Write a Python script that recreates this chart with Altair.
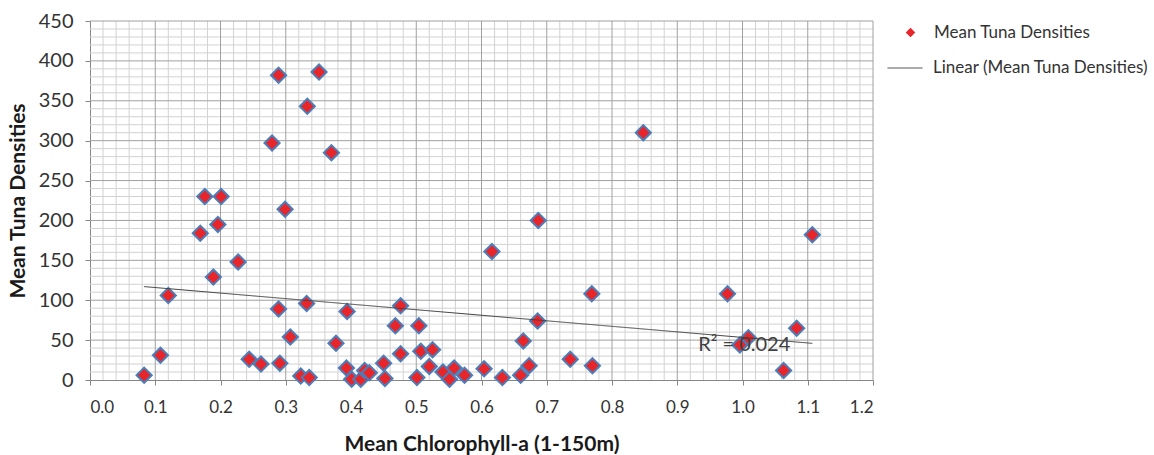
import altair as alt
import pandas as pd

# Mean chlorophyll-a (1-150 m) against mean tuna densities, one value per station
chl = [0.083, 0.108, 0.120, 0.169, 0.176, 0.189, 0.196, 0.201, 0.227, 0.244,
       0.262, 0.279, 0.289, 0.289, 0.291, 0.299, 0.307, 0.323, 0.332, 0.333,
       0.336, 0.351, 0.370, 0.377, 0.393, 0.394, 0.401, 0.415, 0.421, 0.428,
       0.450, 0.452, 0.468, 0.476, 0.476, 0.501, 0.504, 0.507, 0.520, 0.525,
       0.541, 0.551, 0.558, 0.574, 0.604, 0.616, 0.632, 0.660, 0.664, 0.673,
       0.686, 0.687, 0.736, 0.769, 0.770, 0.848, 0.977, 0.996, 1.009, 1.063,
       1.083, 1.107]
tuna = [6, 31, 106, 184, 230, 129, 195, 230, 148, 26,
        20, 297, 382, 89, 21, 214, 54, 5, 96, 343,
        3, 386, 285, 46, 15, 86, 1, 1, 12, 9,
        21, 2, 68, 93, 33, 3, 68, 36, 17, 38,
        10, 1, 15, 6, 14, 161, 3, 6, 49, 18,
        74, 200, 26, 108, 18, 310, 108, 44, 53, 12,
        65, 182]

series_points = "Mean Tuna Densities"
series_trend = "Linear (Mean Tuna Densities)"
r2_text = "R² = 0.024"
x_title = "Mean Chlorophyll-a (1-150m)"
y_title = "Mean Tuna Densities"

# Gridline positions: major every 0.1 / 50, minor every 0.02 / 10
x_major = [round(i * 0.1, 1) for i in range(13)]
x_minor = [round(i * 0.02, 2) for i in range(61) if i % 5]
y_major = list(range(0, 451, 50))
y_minor = [v for v in range(0, 451, 10) if v % 50]

FONT = "Lato"
RED = "#E8262A"
BLUE = "#4A7EBB"
TREND = "#404040"
AXIS_GRAY = "#868686"

df = pd.DataFrame({"chl": chl, "tuna": tuna, "series": series_points})

x_scale = alt.Scale(domain=[0, 1.2], nice=False, zero=False)
y_scale = alt.Scale(domain=[0, 450], nice=False, zero=False)

x_axis = alt.Axis(
    values=x_major, format=".1f", grid=False,
    labelFont=FONT, labelFontSize=17, labelColor="#333333", labelPadding=14,
    tickSize=5, tickColor=AXIS_GRAY, domainColor=AXIS_GRAY,
    titleFont=FONT, titleFontSize=21, titleFontWeight="bold",
    titleColor="#1a1a1a", titlePadding=18,
)
y_axis = alt.Axis(
    values=y_major, grid=False,
    labelFont=FONT, labelFontSize=20, labelColor="#333333", labelPadding=12,
    tickSize=5, tickColor=AXIS_GRAY, domainColor=AXIS_GRAY,
    titleFont=FONT, titleFontSize=21, titleFontWeight="bold",
    titleColor="#1a1a1a", titleX=-72, titleY=179.5, titleAngle=270,
    titleBaseline="middle", titleAlign="center",
)

X = alt.X("chl:Q", scale=x_scale, title=x_title, axis=x_axis)
Y = alt.Y("tuna:Q", scale=y_scale, title=y_title, axis=y_axis)

# Minor and major gridlines, drawn as rules on the shared scales
minor_v = alt.Chart(pd.DataFrame({"chl": x_minor})).mark_rule(
    color="#D2D2D2", strokeWidth=1
).encode(x=X)
minor_h = alt.Chart(pd.DataFrame({"tuna": y_minor})).mark_rule(
    color="#D2D2D2", strokeWidth=1
).encode(y=Y)
major_v = alt.Chart(pd.DataFrame({"chl": x_major[1:]})).mark_rule(
    color="#A0A0A0", strokeWidth=1
).encode(x=X)
major_h = alt.Chart(pd.DataFrame({"tuna": y_major[1:]})).mark_rule(
    color="#A0A0A0", strokeWidth=1
).encode(y=Y)

points = alt.Chart(df).mark_point(
    filled=True, size=230, fill=RED, stroke=BLUE, strokeWidth=2, opacity=1
).encode(
    x=X,
    y=Y,
    shape=alt.Shape(
        "series:N",
        scale=alt.Scale(domain=[series_points], range=["diamond"]),
        legend=alt.Legend(
            title=None, orient="none", legendX=812, legendY=3, padding=0,
            symbolSize=90, symbolFillColor=RED, symbolStrokeWidth=0,
            labelFont=FONT, labelFontSize=17, labelColor="#333333",
            labelOffset=15, labelLimit=400,
        ),
    ),
)

trend = alt.Chart(df).transform_regression("chl", "tuna").transform_calculate(
    trend=f'"{series_trend}"'
).mark_line(color=TREND, strokeWidth=1).encode(
    x=X,
    y=Y,
    strokeDash=alt.StrokeDash(
        "trend:N",
        scale=alt.Scale(domain=[series_trend], range=[[1, 0]]),
        legend=alt.Legend(
            title=None, orient="none", legendX=797, legendY=29, padding=0,
            symbolType="stroke", symbolSize=1225, symbolStrokeColor=TREND,
            symbolStrokeWidth=1,
            labelFont=FONT, labelFontSize=17, labelColor="#333333",
            labelOffset=10, labelLimit=400,
        ),
    ),
)

r2 = alt.Chart(df).transform_regression("chl", "tuna").transform_joinaggregate(
    xmax="max(chl)"
).transform_filter("datum.chl == datum.xmax").mark_text(
    text=r2_text, align="right", baseline="middle", dx=-22, dy=2,
    font=FONT, fontSize=20, color=TREND,
).encode(x=X, y=Y)

chart = alt.layer(minor_v, minor_h, major_v, major_h, points, trend, r2).properties(
    width=783,
    height=359,
    autosize=alt.AutoSizeParams(type="none"),
    padding={"left": 90, "top": 21, "right": 281, "bottom": 75},
    background="white",
).configure_view(stroke=None)

chart.save("out.html", embed_options={"renderer": "svg", "actions": False})
